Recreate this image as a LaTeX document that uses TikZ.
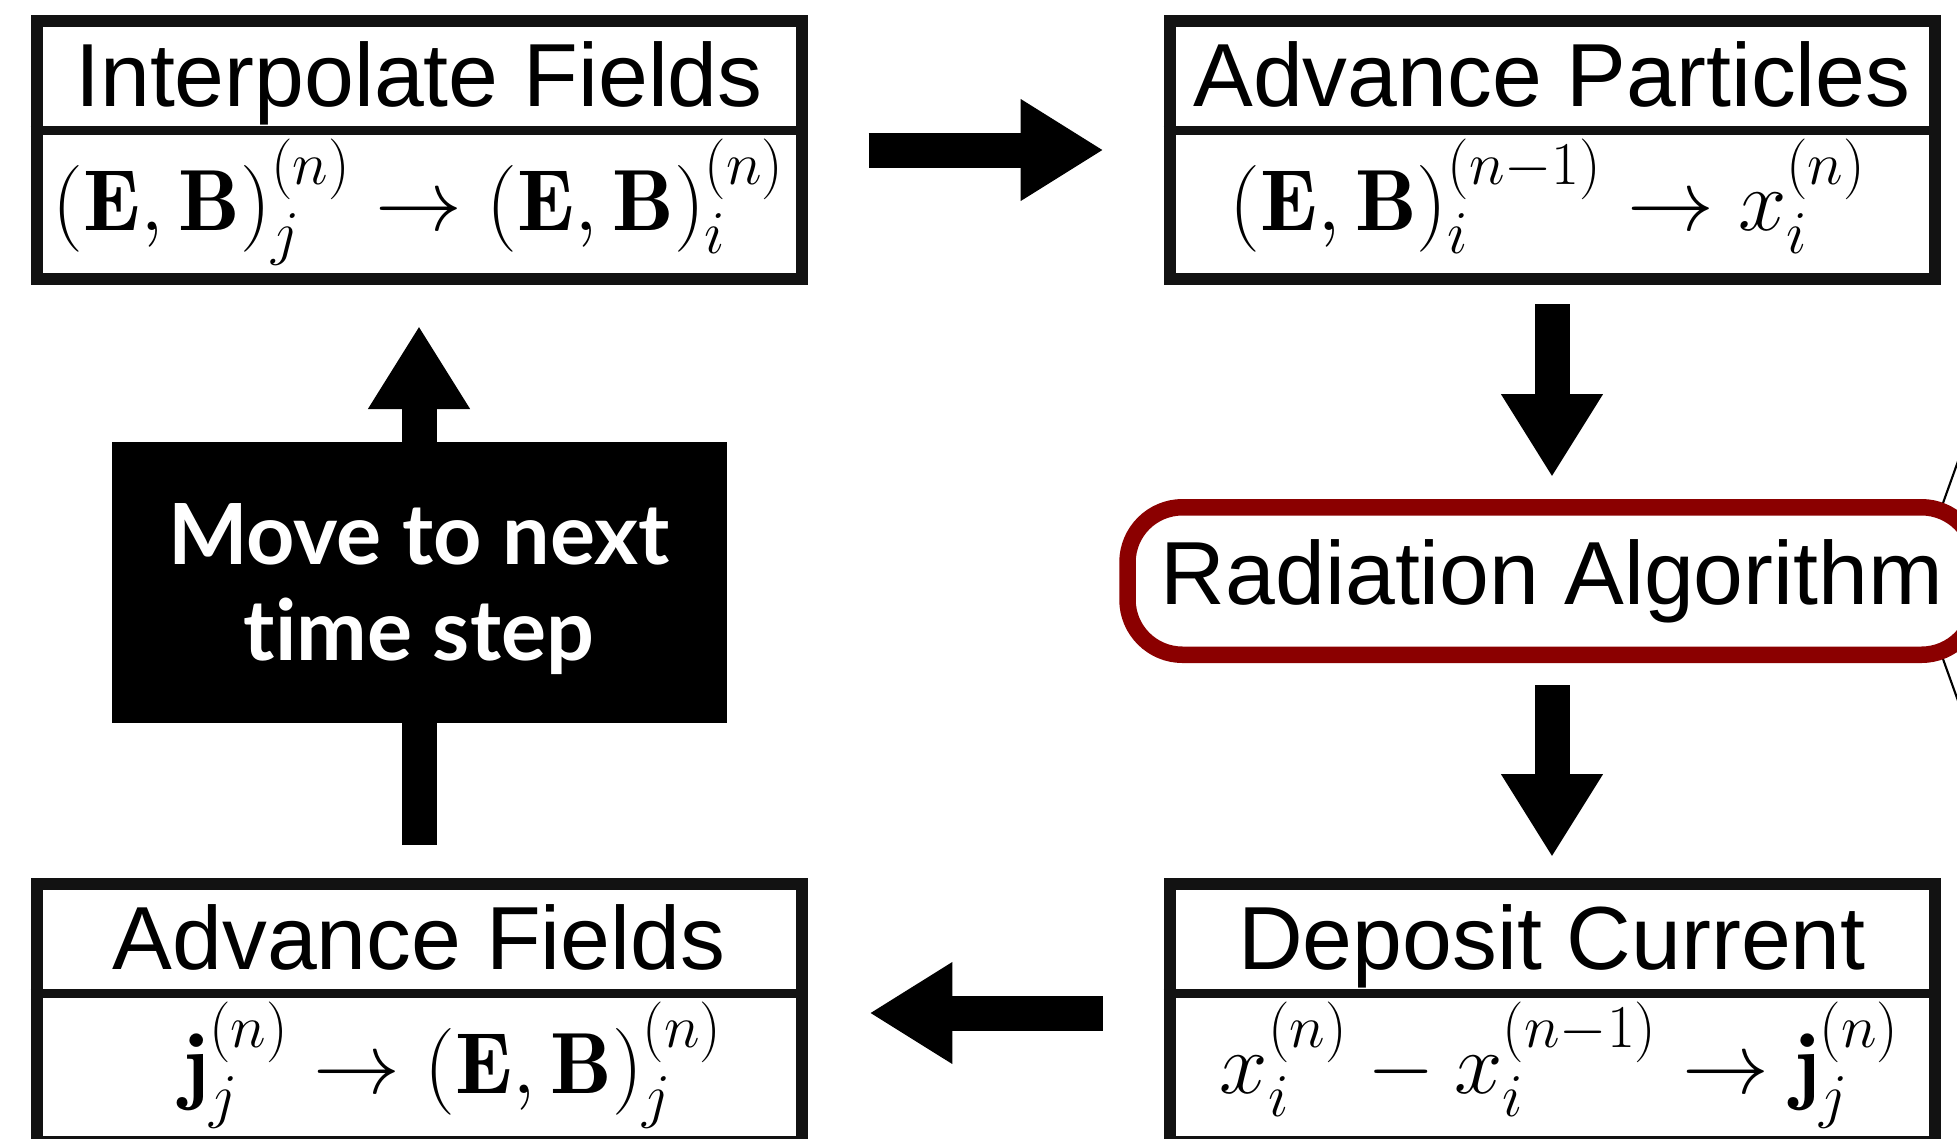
\RequirePackage{fix-cm}
\documentclass[tikz,border=0pt]{standalone}
\usepackage{amsmath}
\usepackage{fontspec}
\usetikzlibrary{arrows.meta}
\newfontfamily\labelfont{Liberation Sans}
\newfontfamily\movefont{Lato}[Ligatures={NoCommon}]
\definecolor{RadRed}{HTML}{8B0000}
\definecolor{BoxBlack}{HTML}{121212}

\begin{document}
\begin{tikzpicture}[x=0.1mm,y=-0.1mm,
  stepbox/.style={draw=BoxBlack,line width=1.2mm,minimum width=76.5mm,minimum height=25.8mm,inner sep=0pt},
  divider/.style={BoxBlack,line width=0.9mm},
  boxtitle/.style={font=\labelfont\fontsize{25.5}{30}\selectfont,anchor=base,inner sep=0pt},
  boxmath/.style={font=\fontsize{24.7}{29}\selectfont,anchor=base,inner sep=0pt},
  radbox/.style={draw=RadRed,fill=white,line width=1.65mm,rounded corners=5.5mm,minimum width=84.9mm,minimum height=14.75mm,inner sep=0pt,font=\labelfont\fontsize{25.5}{30}\selectfont},
  movebox/.style={fill=black,text=white,minimum width=61.5mm,minimum height=28.1mm,align=center,text depth=0pt,font=\movefont\bfseries\fontsize{24}{27.3}\selectfont},
  blockarrow/.style={line width=3.5mm,-{Triangle[length=8.3mm,width=9.6mm]}},
  lensline/.style={black,line width=0.6pt}]
  \useasboundingbox (0,0) rectangle (1957,1138);

  % the four steps of the loop
  \node[stepbox] (interp) at (419,150) {};
  \node[stepbox] (advp) at (1552,150) {};
  \node[stepbox] (advf) at (419,1013) {};
  \node[stepbox] (dep) at (1552,1013) {};
  \foreach \b in {interp,advp,advf,dep}
    \draw[divider] ([yshift=2mm]\b.west) -- ([yshift=2mm]\b.east);

  \node[boxtitle] (interpT) at (419,106) {Interpolate Fields};
  \node[boxmath] (interpM) at (419,230) {$(\mathbf{E},\mathbf{B})_j^{(n)}\rightarrow(\mathbf{E},\mathbf{B})_i^{(n)}$};
  \node[boxtitle] (advpT) at (1552,106) {Advance Particles};
  \node[boxmath] (advpM) at (1548,230) {$(\mathbf{E},\mathbf{B})_i^{(n-1)}\rightarrow x_i^{(n)}$};
  \node[boxtitle] (advfT) at (419,969) {Advance Fields};
  \node[boxmath] (advfM) at (453,1093) {$\mathbf{j}_j^{(n)}\rightarrow(\mathbf{E},\mathbf{B})_j^{(n)}$};
  \node[boxtitle] (depT) at (1552,969) {Deposit Current};
  \node[boxmath] (depM) at (1560,1093) {$x_i^{(n)}-x_i^{(n-1)}\rightarrow\mathbf{j}_j^{(n)}$};

  % radiation step, with the lines to the close-up
  \coordinate (focus) at (1915,581);
  \coordinate (lensTop) at (1980,400);
  \coordinate (lensBot) at (1980,762);
  \draw[lensline] (focus) -- (lensTop);
  \draw[lensline] (focus) -- (lensBot);
  \node[radbox] (rad) at (1552,581) {Radiation Algorithm};

  % arrows
  \draw[blockarrow,shorten <=6.1mm,shorten >=6mm] (interp.east) -- (advp.west);
  \draw[blockarrow,shorten <=1.9mm,shorten >=2.2mm] (advp.south) -- (rad.north);
  \draw[blockarrow,shorten <=2.2mm,shorten >=2.1mm] (rad.south) -- (dep.north);
  \draw[blockarrow,shorten <=6.1mm,shorten >=6.2mm] (dep.west) -- (advf.east);
  \draw[blockarrow,shorten <=3.3mm,shorten >=4.1mm] (advf.north) -- (interp.south);

  \node[movebox] (next) at (419,582) {Move to next\\time step};
\end{tikzpicture}
\end{document}
